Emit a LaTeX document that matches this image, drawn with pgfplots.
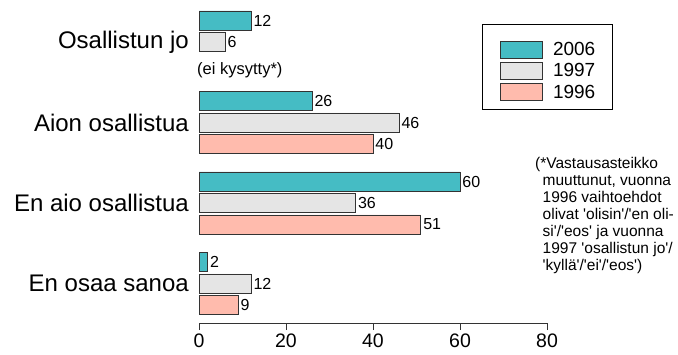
\documentclass[border=0pt]{standalone}
\usepackage{pgfplots}
\pgfplotsset{compat=1.18}
\usepackage{fontspec}
\setmainfont{Liberation Sans}
\newfontfamily\lsans{Liberation Sans}
\definecolor{c06}{HTML}{45BCC4}
\definecolor{c97}{HTML}{E5E5E5}
\definecolor{c96}{HTML}{FFBBAD}
\definecolor{edge}{HTML}{333333}
\pgfplotsset{
  mybar/.style={xbar, bar width=19bp, bar shift=0pt, draw=edge, line width=0.8bp, fill=#1,
    legend image code/.code={\draw[##1] (0bp,-8.5bp) rectangle (42bp,8.5bp);}},
}
\begin{document}
\begin{tikzpicture}
\path[use as bounding box] (0,0) rectangle (678bp,355bp);
\begin{axis}[
  at={(199bp,32bp)}, anchor=south west,
  x=4.35bp, y=1bp,
  xmin=0, xmax=80, ymin=32, ymax=355,
  axis x line*=bottom, axis y line*=left,
  y axis line style={draw=none},
  x axis line style={line width=0.8bp, black!80},
  xtick={0,20,40,60,80},
  ytick={71.5,152,232.5,313},
  yticklabels={En osaa sanoa, En aio osallistua, Aion osallistua, Osallistun jo},
  tick align=outside,
  major tick length=7bp,
  xtick style={line width=0.8bp, black!80},
  ytick style={draw=none},
  yticklabel style={font=\fontsize{24bp}{28bp}\selectfont, inner sep=0pt, xshift=-3bp},
  xticklabel style={font=\fontsize{19.5bp}{24bp}\selectfont, inner sep=0pt, yshift=-4bp},
  /pgf/number format/assume math mode=true,
  clip=false,
  nodes near coords, point meta=x,
  every node near coord/.append style={anchor=west, inner sep=2bp, font=\fontsize{16bp}{19bp}\selectfont, black},
  legend cell align=left,
  legend style={draw=none, fill=none, at={(axis description cs:0.865,0.8746)}, anchor=north west,
    inner sep=0pt, row sep=3.5bp, font=\fontsize{19bp}{22bp}\selectfont, nodes={inner sep=0pt},
    /tikz/every odd column/.append style={column sep=10bp}},
]
\addplot[mybar=c06] coordinates {(12,334.5) (26,254) (60,173.5) (2,93)};
\addlegendentry{2006}
\addplot[mybar=c97] coordinates {(6,313) (46,232.5) (36,152) (12,71.5)};
\addlegendentry{1997}
\addplot[mybar=c96] coordinates {(40,211) (51,130.5) (9,50)};
\addlegendentry{1996}
\end{axis}
\draw[line width=0.9bp, black] (482bp,331bp) rectangle (612bp,246bp);
\node[anchor=base west, inner sep=0pt, font=\lsans\fontsize{16.5bp}{19bp}\selectfont] at (197bp,280.3bp) {(ei kysytty*)};
\node[anchor=north west, inner sep=0pt, align=left, font=\lsans\fontsize{15.5bp}{17bp}\selectfont] at (535bp,197.5bp)
{(*Vastausasteikko\\
\hspace*{7.5bp}muuttunut, vuonna\\
\hspace*{7.5bp}1996 vaihtoehdot\\
\hspace*{7.5bp}olivat 'olisin'/'en oli-\\
\hspace*{7.5bp}si'/'eos' ja vuonna\\
\hspace*{7.5bp}1997 'osallistun jo'/\\
\hspace*{7.5bp}'kyllä'/'ei'/'eos')};
\end{tikzpicture}
\end{document}
